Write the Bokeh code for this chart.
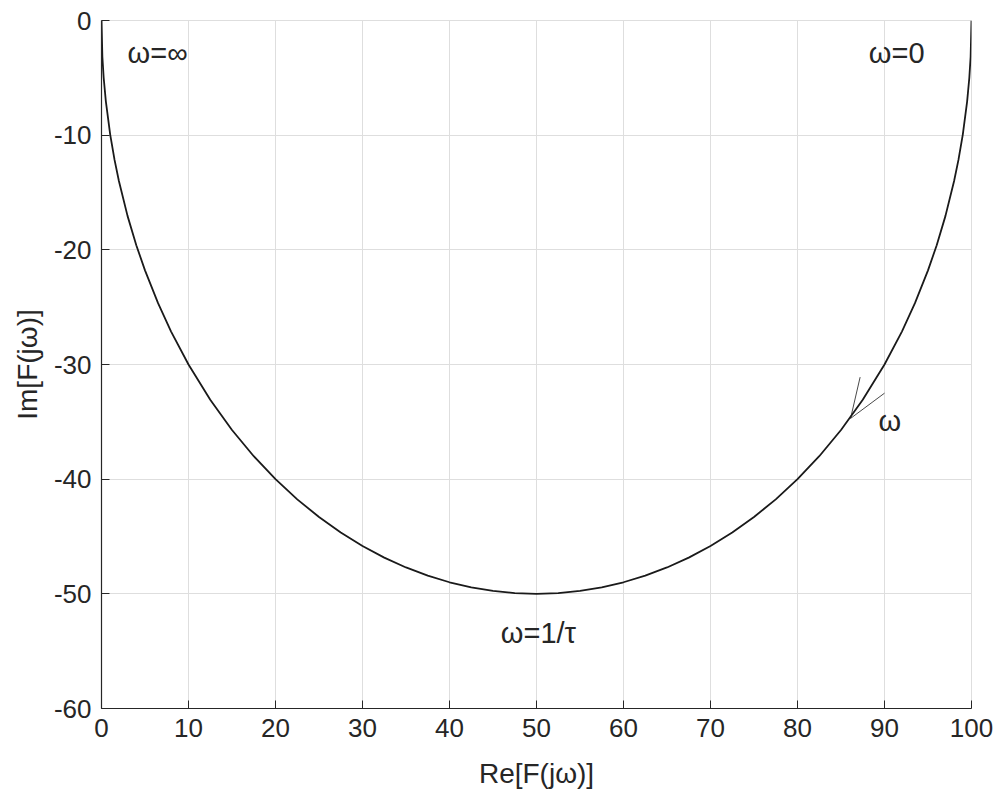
from bokeh.plotting import figure
from bokeh.models import Range1d, FixedTicker, PrintfTickFormatter
from bokeh.core.properties import value
from bokeh.embed import file_html
from bokeh.resources import INLINE

# Curve points (Re, Im)
re_vals = [0, 0.1, 0.25, 0.5, 1, 1.5, 2, 3, 4, 5, 6.5, 8, 10, 12.5, 15, 17.5, 20,
           22.5, 25, 27.5, 30, 32.5, 35, 37.5, 40, 42.5, 45, 47.5, 50,
           52.5, 55, 57.5, 60, 62.5, 65, 67.5, 70, 72.5, 75, 77.5, 80,
           82.5, 85, 87.5, 90, 92, 93.5, 95, 96, 97, 98, 98.5, 99, 99.5, 99.75, 99.9, 100]
im_vals = [0, -3.16, -4.99, -7.05, -9.95, -12.16, -14.0, -17.06, -19.6, -21.79, -24.65,
           -27.13, -30.0, -33.07, -35.71, -38.0, -40.0,
           -41.76, -43.3, -44.65, -45.83, -46.84, -47.7, -48.41, -48.99, -49.43, -49.75, -49.94, -50.0,
           -49.94, -49.75, -49.43, -48.99, -48.41, -47.7, -46.84, -45.83, -44.65, -43.3, -41.76, -40.0,
           -38.0, -35.71, -33.07, -30.0, -27.13, -24.65, -21.79, -19.6, -17.06, -14.0, -12.16, -9.95,
           -7.05, -4.99, -3.16, 0]

x_ticks = [0, 10, 20, 30, 40, 50, 60, 70, 80, 90, 100]
y_ticks = [-60, -50, -40, -30, -20, -10, 0]

# Arrow on the curve: tip and the two ends of its open head
arrow_tip = (86.1, -34.7)
arrow_ends_x = [87.2, 90.0]
arrow_ends_y = [-31.1, -32.5]

# Annotations
ann_text = ["ω=∞", "ω=0", "ω=1/τ", "ω"]
ann_x = [3.0, 88.2, 45.9, 89.3]
ann_y = [-2.8, -2.8, -53.4, -34.9]

FONT = "Liberation Sans"
DARK = "#262626"
GRID = "#dedede"

p = figure(width=993, height=794, output_backend="svg", toolbar_location=None,
           x_range=Range1d(0, 100), y_range=Range1d(-60, 0),
           min_border_left=101, min_border_right=22, min_border_top=20,
           min_border_bottom=86)

p.line(re_vals, im_vals, line_color="#1a1a1a", line_width=1.8)

p.segment(x0=[arrow_tip[0]] * 2, y0=[arrow_tip[1]] * 2, x1=arrow_ends_x, y1=arrow_ends_y,
          line_color="#1a1a1a", line_width=0.8)

p.text(x=ann_x, y=ann_y, text=ann_text, text_font=value(FONT), text_font_size="29px",
       text_color=DARK, text_align="left", text_baseline="middle")

for ax in (p.xaxis[0], p.yaxis[0]):
    ax.major_label_text_font = FONT
    ax.major_label_text_font_size = "26px"
    ax.major_label_text_color = DARK
    ax.axis_label_text_font = FONT
    ax.axis_label_text_font_size = "28px"
    ax.axis_label_text_font_style = "normal"
    ax.axis_label_text_color = DARK
    ax.axis_line_color = DARK
    ax.axis_line_width = 1.2
    ax.major_tick_line_color = DARK
    ax.major_tick_in = 8
    ax.major_tick_out = 0
    ax.minor_tick_line_color = None
    ax.major_label_standoff = 10
    ax.formatter = PrintfTickFormatter(format="%d")

p.xaxis[0].ticker = FixedTicker(ticks=x_ticks)
p.yaxis[0].ticker = FixedTicker(ticks=y_ticks)
p.xaxis[0].axis_label = "Re[F(jω)]"
p.yaxis[0].axis_label = "Im[F(jω)]"
p.xaxis[0].axis_label_standoff = 18
p.yaxis[0].axis_label_standoff = 8

p.xgrid.ticker = FixedTicker(ticks=x_ticks)
p.ygrid.ticker = FixedTicker(ticks=y_ticks)
p.grid.grid_line_color = GRID
p.grid.grid_line_width = 1
p.outline_line_color = GRID
p.background_fill_color = "white"
p.border_fill_color = "white"

open("out.html", "w").write(file_html(p, INLINE))
